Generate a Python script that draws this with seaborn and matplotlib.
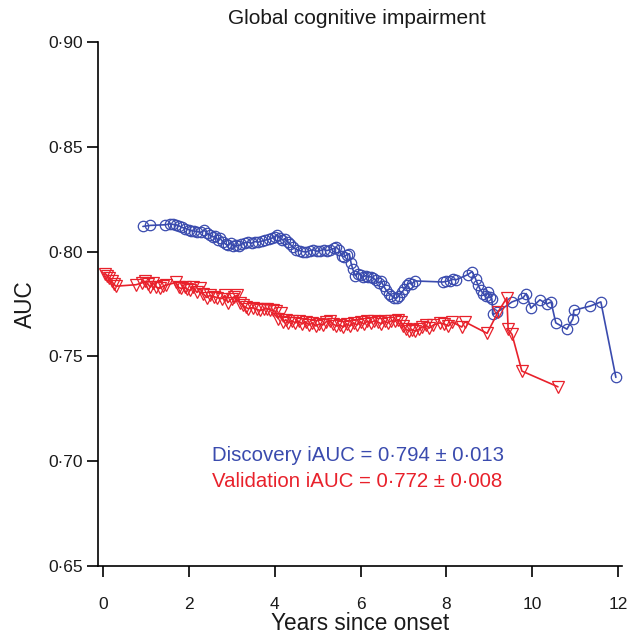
import matplotlib
matplotlib.use("Agg")
import matplotlib.pyplot as plt
import seaborn as sns
import pandas as pd

# ---- data ----
disc_years = [0.93, 1.10, 1.45, 1.55, 1.62, 1.70, 1.78, 1.85, 1.92, 2.00, 2.06, 2.12, 2.20, 2.28,
              2.36, 2.42, 2.50, 2.56, 2.62, 2.67, 2.72, 2.80, 2.86, 2.92, 2.98, 3.04, 3.10, 3.16,
              3.22, 3.30, 3.38, 3.46, 3.54, 3.62, 3.70, 3.78, 3.86, 3.94, 4.00, 4.06, 4.12, 4.18,
              4.24, 4.30, 4.36, 4.42, 4.50, 4.58, 4.66, 4.74, 4.82, 4.90, 4.98, 5.06, 5.14, 5.22,
              5.30, 5.38, 5.44, 5.50, 5.56, 5.62, 5.68, 5.74, 5.78, 5.82, 5.88, 5.94, 6.00, 6.06,
              6.12, 6.18, 6.24, 6.30, 6.36, 6.42, 6.48, 6.54, 6.60, 6.66, 6.72, 6.78, 6.84, 6.90,
              6.96, 7.02, 7.08, 7.14, 7.20, 7.26, 7.92, 8.00, 8.08, 8.15, 8.22, 8.50, 8.60, 8.68,
              8.74, 8.80, 8.86, 8.92, 8.98, 9.02, 9.06, 9.09, 9.18, 9.53, 9.79, 9.86, 9.97, 10.18,
              10.34, 10.44, 10.55, 10.81, 10.95, 10.97, 11.35, 11.60, 11.95]
disc_auc = [0.8120, 0.8125, 0.8128, 0.8132, 0.8130, 0.8128, 0.8122, 0.8115, 0.8110, 0.8105, 0.8100,
            0.8098, 0.8095, 0.8092, 0.8102, 0.8088, 0.8078, 0.8070, 0.8075, 0.8055, 0.8065, 0.8045,
            0.8035, 0.8030, 0.8040, 0.8025, 0.8030, 0.8028, 0.8035, 0.8042, 0.8045, 0.8040, 0.8048,
            0.8045, 0.8050, 0.8055, 0.8058, 0.8065, 0.8072, 0.8080, 0.8065, 0.8055, 0.8062, 0.8048,
            0.8035, 0.8022, 0.8010, 0.8005, 0.8000, 0.7998, 0.8005, 0.8008, 0.8002, 0.8005, 0.8010,
            0.8005, 0.8010, 0.8015, 0.8020, 0.8008, 0.7980, 0.7975, 0.7985, 0.7990, 0.7945, 0.7915,
            0.7885, 0.7895, 0.7890, 0.7880, 0.7885, 0.7878, 0.7880, 0.7872, 0.7865, 0.7850, 0.7860,
            0.7835, 0.7815, 0.7800, 0.7790, 0.7780, 0.7778, 0.7790, 0.7805, 0.7820, 0.7840, 0.7850,
            0.7845, 0.7860, 0.7855, 0.7858, 0.7862, 0.7868, 0.7865, 0.7890, 0.7905, 0.7870, 0.7840,
            0.7815, 0.7800, 0.7790, 0.7805, 0.7785, 0.7775, 0.7700, 0.7710, 0.7760, 0.7780, 0.7800,
            0.7730, 0.7770, 0.7750, 0.7760, 0.7660, 0.7630, 0.7680, 0.7720, 0.7740, 0.7760, 0.7400]

val_years = [0.05, 0.10, 0.15, 0.20, 0.25, 0.30, 0.77, 0.90, 0.98, 1.05, 1.10, 1.17, 1.24, 1.33,
             1.40, 1.47, 1.70, 1.76, 1.82, 1.90, 1.96, 2.03, 2.10, 2.19, 2.26, 2.33, 2.42, 2.49,
             2.58, 2.66, 2.77, 2.84, 2.91, 3.00, 3.06, 3.12, 3.19, 3.26, 3.32, 3.38, 3.49, 3.58,
             3.66, 3.74, 3.82, 3.90, 3.96, 4.02, 4.08, 4.14, 4.20, 4.26, 4.32, 4.40, 4.48, 4.56,
             4.64, 4.72, 4.80, 4.88, 4.96, 5.04, 5.12, 5.20, 5.28, 5.36, 5.44, 5.52, 5.60, 5.68,
             5.76, 5.84, 5.92, 6.00, 6.08, 6.16, 6.24, 6.32, 6.40, 6.48, 6.56, 6.64, 6.72, 6.80,
             6.88, 6.94, 7.00, 7.06, 7.12, 7.20, 7.28, 7.36, 7.44, 7.52, 7.60, 7.70, 7.85, 7.95,
             8.05, 8.13, 8.36, 8.43, 8.95, 9.20, 9.41, 9.44, 9.53, 9.76, 10.60]
val_auc = [0.7895, 0.7885, 0.7875, 0.7860, 0.7845, 0.7835, 0.7842, 0.7850, 0.7858, 0.7845, 0.7830,
           0.7850, 0.7830, 0.7825, 0.7835, 0.7840, 0.7853, 0.7830, 0.7824, 0.7830, 0.7820, 0.7815,
           0.7829, 0.7805, 0.7824, 0.7800, 0.7781, 0.7791, 0.7785, 0.7781, 0.7776, 0.7791, 0.7757,
           0.7776, 0.7785, 0.7791, 0.7757, 0.7743, 0.7735, 0.7728, 0.7733, 0.7725, 0.7719, 0.7725,
           0.7728, 0.7722, 0.7719, 0.7715, 0.7680, 0.7705, 0.7665, 0.7675, 0.7660, 0.7670, 0.7660,
           0.7668, 0.7655, 0.7665, 0.7650, 0.7660, 0.7645, 0.7655, 0.7650, 0.7665, 0.7670, 0.7655,
           0.7645, 0.7650, 0.7640, 0.7655, 0.7645, 0.7660, 0.7650, 0.7665, 0.7655, 0.7668, 0.7660,
           0.7670, 0.7665, 0.7655, 0.7668, 0.7660, 0.7670, 0.7668, 0.7675, 0.7665, 0.7645, 0.7630,
           0.7622, 0.7628, 0.7620, 0.7630, 0.7640, 0.7650, 0.7635, 0.7650, 0.7660, 0.7655, 0.7645,
           0.7665, 0.7640, 0.7665, 0.7610, 0.7710, 0.7780, 0.7630, 0.7605, 0.7430, 0.7355]

x_ticks = [0, 2, 4, 6, 8, 10, 12]
y_ticks = [0.65, 0.70, 0.75, 0.80, 0.85, 0.90]
y_tick_labels = ["0·65", "0·70", "0·75", "0·80", "0·85", "0·90"]
disc_label = "Discovery iAUC = 0·794 ± 0·013"
val_label = "Validation iAUC = 0·772 ± 0·008"

BLUE = "#3A4BAE"
RED = "#E8212B"

sns.set_style("ticks")
plt.rcParams["font.family"] = ["Liberation Sans", "DejaVu Sans"]

fig = plt.figure(figsize=(6.28, 6.38), dpi=100)
ax = fig.add_axes([98 / 628, 1 - 566 / 638, 524 / 628, 524 / 638])

disc = pd.DataFrame({"years": disc_years, "auc": disc_auc})
val = pd.DataFrame({"years": val_years, "auc": val_auc})

sns.lineplot(data=disc, x="years", y="auc", ax=ax, estimator=None, sort=False,
             color=BLUE, lw=1.2, marker="o", markersize=7.5, markerfacecolor="none",
             markeredgecolor=BLUE, markeredgewidth=0.9)
sns.lineplot(data=val, x="years", y="auc", ax=ax, estimator=None, sort=False,
             color=RED, lw=1.2, marker="v", markersize=9, markerfacecolor="none",
             markeredgecolor=RED, markeredgewidth=0.9)

ax.set_xlim(-0.117, 12.093)
ax.set_ylim(0.65, 0.90)
ax.set_xticks(x_ticks)
ax.set_xticklabels([str(t) for t in x_ticks])
ax.set_yticks(y_ticks)
ax.set_yticklabels(y_tick_labels)
ax.tick_params(axis="both", labelsize=12.5, length=8, width=1.2, color="black",
               labelcolor="#1a1a1a", direction="out")
ax.tick_params(axis="x", pad=14)
ax.tick_params(axis="y", pad=3)
for s in ["left", "bottom"]:
    ax.spines[s].set_linewidth(1.2)
    ax.spines[s].set_color("black")
sns.despine(ax=ax)

ax.set_xlabel("Years since onset", fontsize=16.3, color="#1a1a1a", labelpad=0)
ax.set_ylabel("AUC", fontsize=16.3, color="#1a1a1a", labelpad=8)

fig.text(357 / 628, 1 - 18 / 638, "Global cognitive impairment", ha="center",
         va="center", fontsize=15, color="#1a1a1a")

ax.text(2.54, 0.7025, disc_label, color=BLUE, fontsize=14.7, ha="left", va="center")
ax.text(2.54, 0.6905, val_label, color=RED, fontsize=14.7, ha="left", va="center")

fig.savefig("out.png", dpi=100)
